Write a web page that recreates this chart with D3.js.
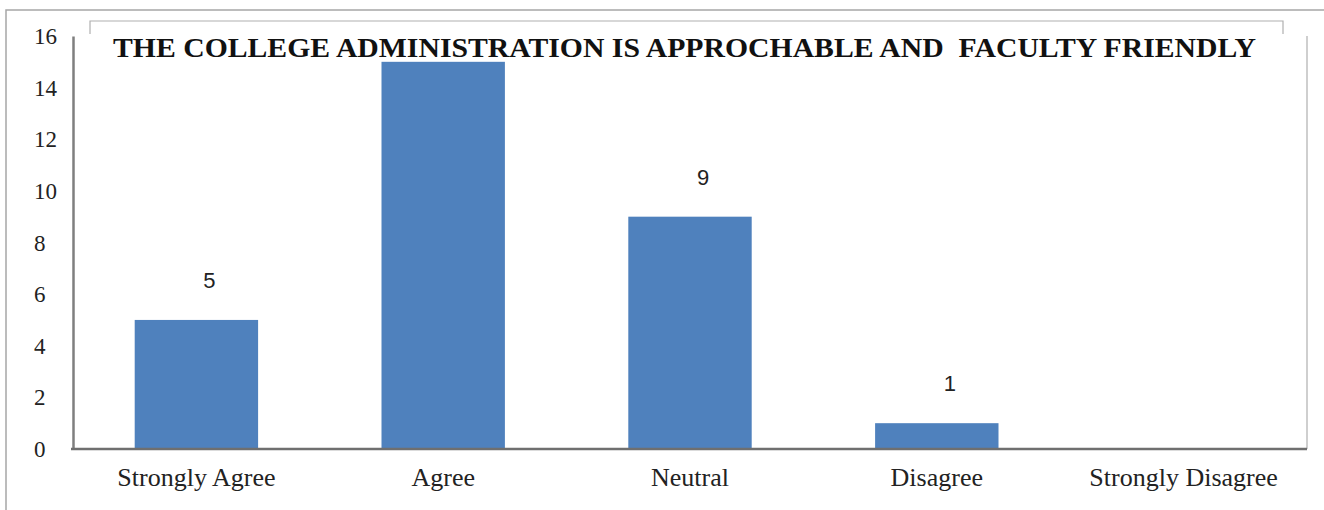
<!DOCTYPE html>
<html>
<head>
<meta charset="utf-8">
<script src="https://cdn.jsdelivr.net/npm/d3@7"></script>
<style>
html,body{margin:0;padding:0;background:#fff;}
svg{display:block;}
</style>
</head>
<body>
<svg id="chart" width="1324" height="510"></svg>
<script>
const categories = ["Strongly Agree", "Agree", "Neutral", "Disagree", "Strongly Disagree"];
const values = [5, 15, 9, 1, 0];
const yTicks = [0, 2, 4, 6, 8, 10, 12, 14, 16];
const title = "THE COLLEGE ADMINISTRATION IS APPROCHABLE AND\u00a0 FACULTY FRIENDLY";

const svg = d3.select("#chart");
const mLeft = 73, mRight = 1307, mTop = 36, mBottom = 449;
const serif = "'Liberation Serif', 'Times New Roman', serif";

const x = d3.scaleBand().domain(categories).range([mLeft, mRight]).paddingInner(0.5).paddingOuter(0.25);
const y = d3.scaleLinear().domain([0, 16]).range([mBottom, mTop]);

// right border of plot
svg.append("line").attr("x1", mRight).attr("x2", mRight).attr("y1", mTop).attr("y2", mBottom)
  .attr("stroke", "#bfbfbf").attr("stroke-width", 1.5);

// bars
svg.append("g").selectAll("rect").data(values).join("rect")
  .attr("x", (d, i) => x(categories[i]))
  .attr("y", d => y(d))
  .attr("width", x.bandwidth())
  .attr("height", d => mBottom - y(d))
  .attr("fill", "#4f81bd");

// data labels
svg.append("g").selectAll("text").data(values).join("text")
  .filter(d => d > 0)
  .attr("x", (d, i) => x(categories[i]) + x.bandwidth() / 2 + 13)
  .attr("y", d => y(d) - 32)
  .attr("text-anchor", "middle")
  .attr("font-family", "'Liberation Sans', Arial, sans-serif")
  .attr("font-size", 22)
  .attr("fill", "#222")
  .text(d => d);

// title box (covers the hidden label of the tallest bar, as in the original)
svg.append("rect").attr("x", 80).attr("y", 0).attr("width", 1210).attr("height", 61).attr("fill", "#fff");
svg.append("path").attr("d", "M90,34 V21 H1283 V34")
  .attr("fill", "none").attr("stroke", "#b0b0b0").attr("stroke-width", 1.2);

// outer frame
svg.append("path").attr("d", "M6,510 V10 H1324")
  .attr("fill", "none").attr("stroke", "#a6a6a6").attr("stroke-width", 1.5);

// y axis
const yAxis = d3.axisLeft(y).tickValues(yTicks).tickSize(0).tickPadding(0);
const gy = svg.append("g").attr("transform", `translate(${mLeft},0)`).call(yAxis);
gy.select(".domain").attr("stroke", "#7f7f7f").attr("stroke-width", 2.5);
gy.selectAll("text")
  .attr("x", 34 - mLeft)
  .attr("text-anchor", "start")
  .attr("dy", "0.33em")
  .attr("font-family", serif)
  .attr("font-size", 23)
  .attr("fill", "#222");

// x axis
const xAxis = d3.axisBottom(x).tickSize(0).tickPadding(19);
const gx = svg.append("g").attr("transform", `translate(0,${mBottom})`).call(xAxis);
gx.select(".domain").attr("stroke", "#6f6f6f").attr("stroke-width", 2.5)
  .attr("d", `M${mLeft - 2},0H${mRight}`);
gx.selectAll("text")
  .attr("font-family", serif)
  .attr("font-size", 26)
  .attr("fill", "#222");

// title
svg.append("text")
  .attr("x", 113).attr("y", 57)
  .attr("font-family", serif)
  .attr("font-weight", "bold")
  .attr("font-size", 27)
  .attr("textLength", 1143)
  .attr("lengthAdjust", "spacingAndGlyphs")
  .attr("fill", "#111")
  .text(title);
</script>
</body>
</html>
